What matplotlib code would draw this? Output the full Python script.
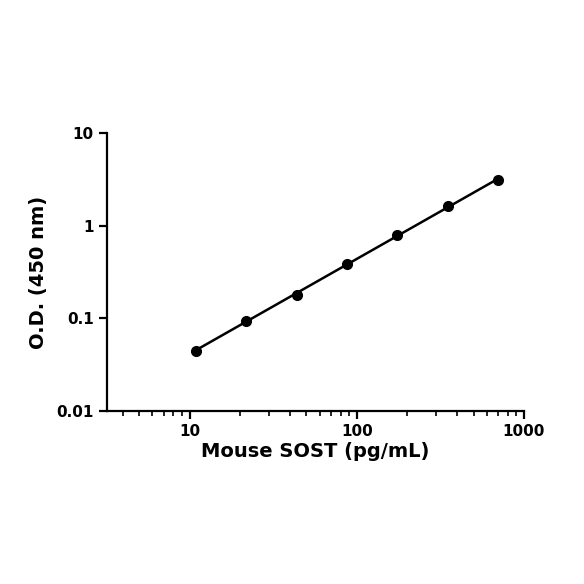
import numpy as np
import matplotlib
matplotlib.use("Agg")
import matplotlib.pyplot as plt

conc = [10.94, 21.88, 43.75, 87.5, 175, 350, 700]
od = [0.045, 0.095, 0.18, 0.39, 0.80, 1.62, 3.1]

fig = plt.figure(figsize=(5.84, 5.84), dpi=100)
ax = fig.add_axes([0.183, 0.296, 0.714, 0.476])
ax.set_xscale("log"); ax.set_yscale("log")
ax.set_xlim(3.2, 1000); ax.set_ylim(0.01, 10)

lx = np.log10(conc); ly = np.log10(od)
p = np.polyfit(lx, ly, 1)
xs = np.linspace(lx[0], lx[-1], 50)
ax.plot(10**xs, 10**np.polyval(p, xs), color="black", lw=1.8)
ax.plot(conc, od, "o", color="black", ms=7)

ax.set_xticks([10, 100, 1000]); ax.set_xticklabels(["10", "100", "1000"])
ax.set_yticks([0.01, 0.1, 1, 10]); ax.set_yticklabels(["0.01", "0.1", "1", "10"])
ax.yaxis.set_minor_locator(matplotlib.ticker.NullLocator())
for s in ["top", "right"]:
    ax.spines[s].set_visible(False)
for s in ["left", "bottom"]:
    ax.spines[s].set_linewidth(1.6)
ax.tick_params(which="major", width=1.6, length=6, labelsize=11)
ax.tick_params(which="minor", width=1.2, length=3.5)
for t in ax.get_xticklabels() + ax.get_yticklabels():
    t.set_fontweight("bold")
ax.set_xlabel("Mouse SOST (pg/mL)", fontsize=14, fontweight="bold", labelpad=2)
ax.set_ylabel("O.D. (450 nm)", fontsize=14, fontweight="bold", labelpad=6)
fig.savefig("out.png", dpi=100)
